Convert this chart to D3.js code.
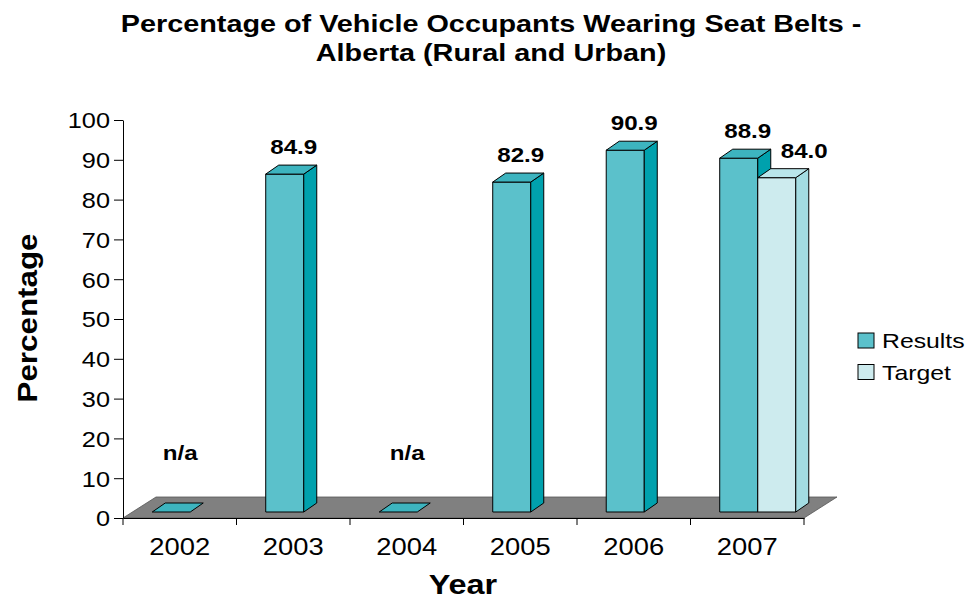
<html>
<head>
<meta charset='utf-8' />
<title>Seat belt chart</title>
<script src="https://d3js.org/d3.v7.min.js"></script>
<style>
  body { margin: 0; background: #fff; }
  svg text { font-family: 'Liberation Sans', Arial, sans-serif; fill: #000; }
  .domain { stroke: #000; }
  .tick line { stroke: #000; }
</style>
</head>
<body>
<svg width='971' height='600'></svg>
<script>
// data (null = n/a)
const years = ['2002', '2003', '2004', '2005', '2006', '2007'];
const series = ['Results', 'Target'];
const results = [null, 84.9, null, 82.9, 90.9, 88.9];
const target = [null, null, null, null, null, 84.0];
const yTicks = [0, 10, 20, 30, 40, 50, 60, 70, 80, 90, 100];

const colors = {
  Results: { front: '#5bc1cb', side: '#00a1ad', top: '#3db4bf' },
  Target: { front: '#cdebee', side: '#a3dce2', top: '#b9e5ea' }
};

const svg = d3.select('svg');

const x = d3.scaleBand().domain(years).range([123, 804]);
const y = d3.scaleLinear().domain([0, 100]).range([518, 120]);
const xSub = d3.scaleBand().domain(series).range([0, x.bandwidth() * 0.67]);
const groupOff = (x.bandwidth() - xSub.range()[1]) / 2;

// 3d offsets
const floorD = [33, -21];
const shift = [10.5, -6];
const depth = [13, -9];

// stretch text horizontally a bit, source font looks wider than arial
function stretch(sel, k) {
  sel.each(function() {
    const w = this.getComputedTextLength();
    d3.select(this).attr('textLength', w * k).attr('lengthAdjust', 'spacingAndGlyphs');
  });
}

// title
const title = svg.append('g').attr('font-weight', 'bold').attr('font-size', 24).attr('text-anchor', 'middle');
title.append('text').attr('x', 491).attr('y', 32).text('Percentage of Vehicle Occupants Wearing Seat Belts -');
title.append('text').attr('x', 491).attr('y', 61).text('Alberta (Rural and Urban)');
title.selectAll('text').call(stretch, 1.2);

// floor
const fx0 = x.range()[0], fx1 = x.range()[1], fy = y(0);
svg.append('polygon')
  .attr('points', [[fx0, fy], [fx1, fy], [fx1 + floorD[0], fy + floorD[1]], [fx0 + floorD[0], fy + floorD[1]]].join(' '))
  .attr('fill', '#808080')
  .attr('stroke', '#555')
  .attr('stroke-width', 0.8);

// y axis
const yAxis = svg.append('g')
  .attr('transform', `translate(${fx0},0)`)
  .call(d3.axisLeft(y).tickValues(yTicks).tickSize(9).tickPadding(4).tickSizeOuter(0));
yAxis.selectAll('text').attr('font-size', 22).attr('dy', '0.36em').style('font-family', 'Liberation Sans, Arial').call(stretch, 1.15);

// x axis
const xAxis = svg.append('g')
  .attr('transform', `translate(0,${fy})`)
  .call(d3.axisBottom(x).tickSize(0).tickPadding(0).tickSizeOuter(0));
xAxis.selectAll('text').attr('font-size', 24).attr('dy', null).attr('y', 37).style('font-family', 'Liberation Sans, Arial').call(stretch, 1.14);
xAxis.selectAll('.bound')
  .data(d3.range(years.length + 1))
  .join('line')
  .attr('class', 'bound')
  .attr('x1', i => fx0 + i * x.step()).attr('x2', i => fx0 + i * x.step())
  .attr('y1', 0).attr('y2', 7)
  .attr('stroke', '#000');

// bars
const bars = [];
years.forEach((yr, i) => {
  [results, target].forEach((vals, s) => {
    bars.push({ year: yr, key: series[s], value: vals[i] });
  });
});

const barG = svg.append('g');
const labelG = svg.append('g');
let prev = null;
bars.forEach(b => {
  if (b.value === null && b.key === 'Target') return;
  const v = b.value === null ? 0 : b.value;
  const x0 = x(b.year) + groupOff + xSub(b.key) + shift[0];
  const x1 = x0 + xSub.bandwidth();
  const yb = y(0) + shift[1];
  const yt = y(v) + shift[1];
  const c = colors[b.key];
  const g = barG.append('g').attr('stroke', '#000').attr('stroke-width', 1).attr('stroke-linejoin', 'round');
  if (v > 0) {
    g.append('rect').attr('x', x0).attr('y', yt).attr('width', x1 - x0).attr('height', yb - yt).attr('fill', c.front);
    g.append('polygon')
      .attr('points', [[x1, yb], [x1 + depth[0], yb + depth[1]], [x1 + depth[0], yt + depth[1]], [x1, yt]].join(' '))
      .attr('fill', c.side);
  }
  g.append('polygon')
    .attr('points', [[x0, yt], [x0 + depth[0], yt + depth[1]], [x1 + depth[0], yt + depth[1]], [x1, yt]].join(' '))
    .attr('fill', c.top);

  // value label
  let lx = (x0 + x1) / 2 + 9;
  const ly = b.value === null ? y(13) + shift[1] : yt + depth[1] - 11;
  const t = labelG.append('text')
    .attr('x', lx).attr('y', ly)
    .attr('text-anchor', 'middle')
    .attr('font-weight', 'bold')
    .attr('font-size', 21)
    .text(b.value === null ? 'n/a' : d3.format('.1f')(b.value))
    .call(stretch, 1.15);
  // keep label clear of a taller neighbour bar on its left
  if (prev && prev.year === b.year && prev.top < ly) {
    const w = +t.attr('textLength');
    const minX = prev.right + 10 + w / 2;
    if (lx < minX) t.attr('x', minX);
  }
  prev = { year: b.year, right: x1 + depth[0], top: yt + depth[1] };
});

// axis titles
svg.append('text')
  .attr('transform', 'translate(37,318) rotate(-90)')
  .attr('text-anchor', 'middle')
  .attr('font-weight', 'bold')
  .attr('font-size', 28)
  .text('Percentage')
  .call(stretch, 1.12);

svg.append('text')
  .attr('x', 463).attr('y', 594)
  .attr('text-anchor', 'middle')
  .attr('font-weight', 'bold')
  .attr('font-size', 27)
  .text('Year')
  .call(stretch, 1.2);

// legend
const legend = svg.append('g').attr('transform', 'translate(858,333)');
series.forEach((s, i) => {
  const row = legend.append('g').attr('transform', `translate(0,${i * 31.5})`);
  row.append('rect').attr('width', 16).attr('height', 15)
    .attr('fill', colors[s].front).attr('stroke', '#000').attr('stroke-width', 1);
  row.append('text').attr('x', 24).attr('y', 15).attr('font-size', 21).text(s).call(stretch, 1.18);
});
</script>
</body>
</html>
